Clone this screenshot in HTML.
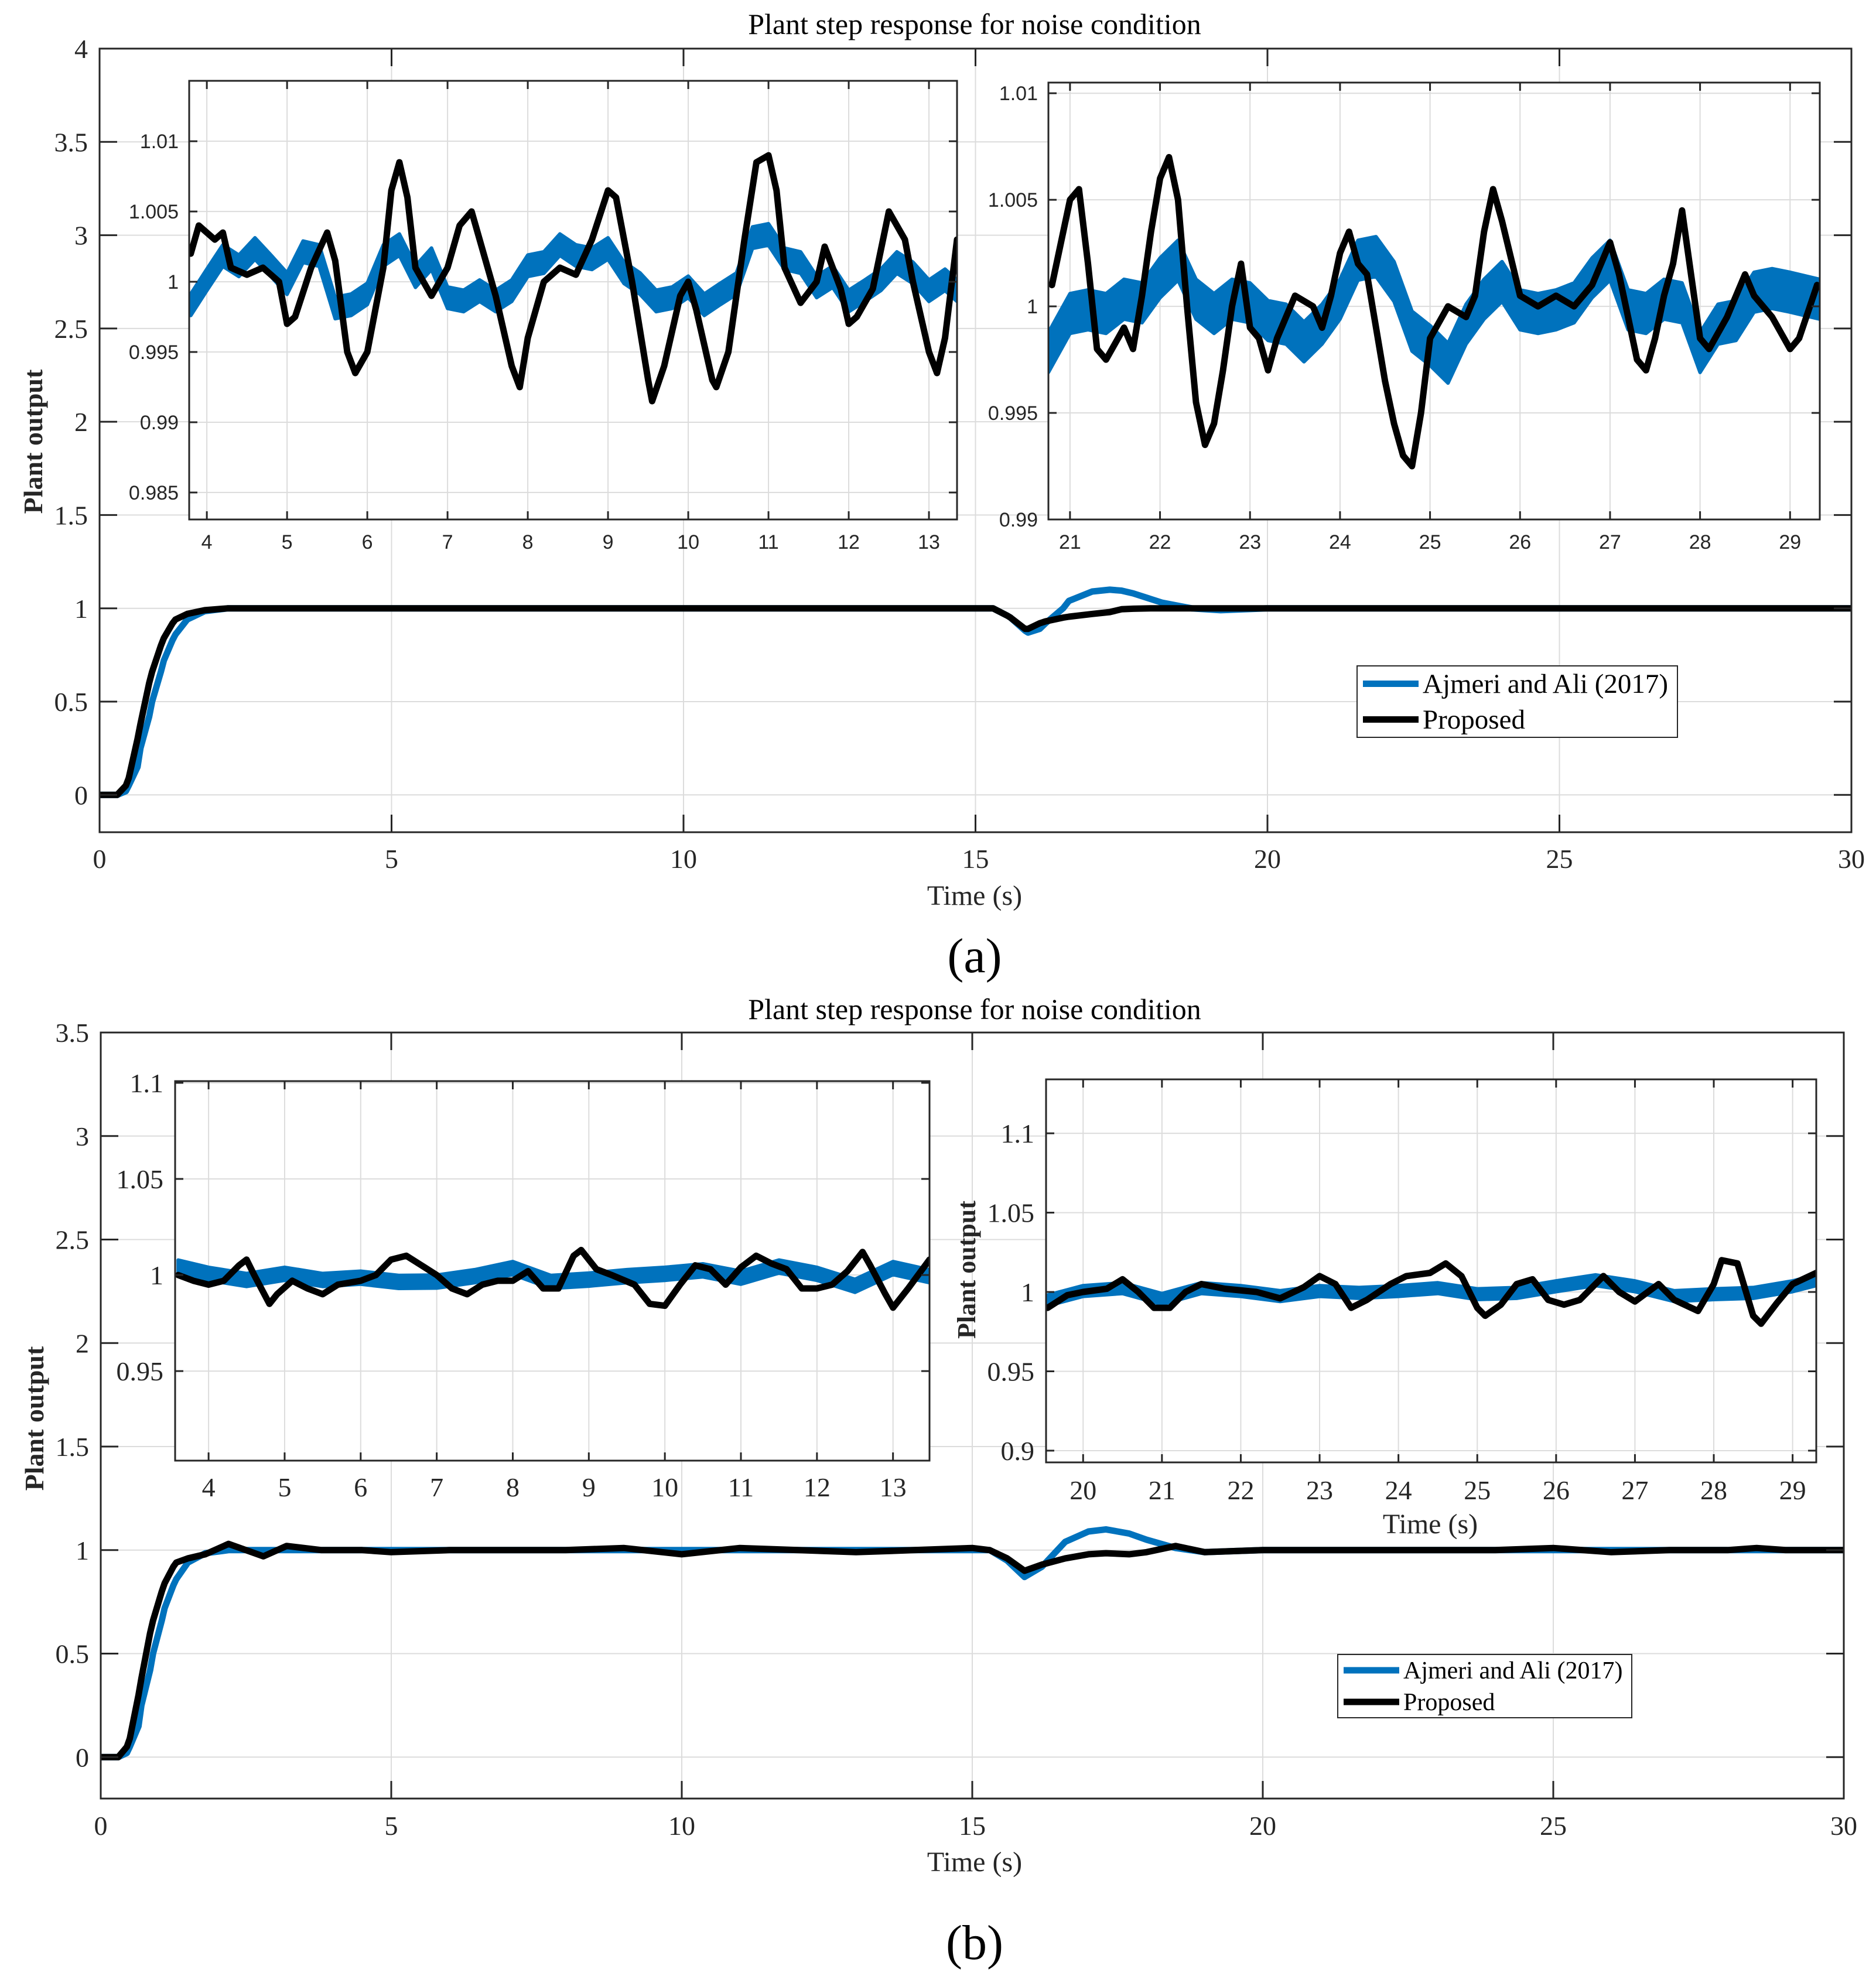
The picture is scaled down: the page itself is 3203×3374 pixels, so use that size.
<!DOCTYPE html>
<html><head><meta charset="utf-8"><style>
html,body{margin:0;padding:0;background:#fff;}
svg{display:block;}
</style></head><body>
<svg id="fig" xmlns="http://www.w3.org/2000/svg" width="3203" height="3374" viewBox="0 0 3203 3374"></svg>
<script>
// ---------- DATA ----------
// Panel (a) main curves
const aMainT = [0,0.3,0.45,0.5,0.65,0.7,0.85,0.9,1.05,1.1,1.25,1.3,1.5,1.8,2.2,3,15.3,15.55,15.6,15.85,15.9,16.1,16.2,16.5,16.6,17,17.3,17.5,17.7,18,18.2,18.7,19.2,20,30];
const aMainBlue = [0,0,0.02,0.05,0.15,0.25,0.42,0.5,0.66,0.72,0.83,0.86,0.94,0.985,1,1,1,0.96,0.95,0.88,0.87,0.89,0.92,1.0,1.04,1.09,1.1,1.095,1.08,1.05,1.03,1.0,0.99,1.0,1.0];
const aMainBlack = [0,0,0.05,0.09,0.3,0.38,0.6,0.66,0.8,0.84,0.92,0.94,0.97,0.99,1,1,1,0.96,0.95,0.89,0.89,0.92,0.93,0.95,0.955,0.97,0.98,0.995,0.998,1,1,1,1,1,1];
// Panel (b) main curves
const bMainT = [0,0.3,0.45,0.5,0.65,0.7,0.85,0.9,1.05,1.1,1.25,1.3,1.5,1.8,2.2,2.8,3.2,3.8,4.5,5,6,7,8,9,10,11,12,13,14,15,15.3,15.6,15.9,16.2,16.6,17,17.3,17.7,18,18.5,19,20,21,22,23,24,25,26,27,28,28.5,29,30];
const bMainBlue = [0,0,0.02,0.05,0.15,0.25,0.42,0.5,0.66,0.72,0.83,0.86,0.94,0.985,1,1,1,1,1,1,1,1,1,1,1,1,1,1,1,1,1,0.95,0.87,0.92,1.04,1.09,1.1,1.08,1.05,1.01,0.99,1,1,1,1,1,1,1,1,1,1,1,1];
const bMainBlack = [0,0,0.05,0.09,0.3,0.38,0.6,0.66,0.8,0.84,0.92,0.94,0.96,0.98,1.03,0.97,1.02,1.0,1.0,0.99,1.0,1.0,1.0,1.01,0.98,1.01,1.0,0.99,1.0,1.01,1.0,0.96,0.9,0.93,0.96,0.98,0.985,0.98,0.99,1.02,0.99,1.0,1.0,1.0,1.0,1.0,1.01,0.99,1.0,1.0,1.01,1.0,1.0];
// Inset a1
const a1T_black = [3.8,3.9,4.0,4.1,4.2,4.3,4.5,4.7,4.9,5.0,5.1,5.3,5.5,5.6,5.75,5.85,6.0,6.2,6.3,6.4,6.5,6.6,6.8,7.0,7.15,7.3,7.4,7.6,7.8,7.9,8.0,8.2,8.4,8.6,8.8,9.0,9.1,9.3,9.5,9.55,9.7,9.9,10.0,10.1,10.3,10.35,10.5,10.7,10.85,11.0,11.1,11.2,11.4,11.6,11.7,11.9,12.0,12.1,12.3,12.5,12.7,12.8,13.0,13.1,13.2,13.35];
const a1Black = [1.002,1.004,1.0035,1.003,1.0035,1.001,1.0005,1.001,1.0,0.997,0.9975,1.001,1.0035,1.0015,0.995,0.9935,0.995,1.001,1.0065,1.0085,1.006,1.001,0.999,1.001,1.004,1.005,1.003,0.999,0.994,0.9925,0.996,1.0,1.001,1.0005,1.003,1.0065,1.006,1.0,0.993,0.9915,0.994,0.999,1.0,0.998,0.993,0.9925,0.995,1.003,1.0085,1.009,1.0065,1.001,0.9985,1.0,1.0025,0.9995,0.997,0.9975,0.9995,1.005,1.003,1.0,0.995,0.9935,0.996,1.003];
const a1T_blue = [3.8,4.0,4.2,4.4,4.6,4.8,5.0,5.2,5.4,5.6,5.8,6.0,6.2,6.4,6.6,6.8,7.0,7.2,7.4,7.6,7.8,8.0,8.2,8.4,8.6,8.8,9.0,9.2,9.4,9.6,9.8,10.0,10.2,10.4,10.6,10.8,11.0,11.2,11.4,11.6,11.8,12.0,12.2,12.4,12.6,12.8,13.0,13.2,13.35];
const a1Blue = [0.9985,1.0,1.002,1.001,1.0025,1.001,1.0,1.002,1.002,0.998,0.9985,0.999,1.002,1.0025,1.0005,1.0015,0.999,0.9985,0.9995,0.9985,0.9995,1.001,1.0015,1.0025,1.002,1.0015,1.0025,1.0005,1.0,0.9985,0.999,0.9995,0.9985,0.999,1.0,1.003,1.0035,1.0015,1.0015,0.9995,1.0005,0.9985,0.9995,1.0,1.0015,1.0005,0.9995,1.0,0.9995];
// Inset a2
const a2T_black = [20.8,20.9,21.0,21.1,21.2,21.3,21.4,21.6,21.7,21.8,21.9,22.0,22.1,22.2,22.3,22.4,22.5,22.6,22.7,22.8,22.9,23.0,23.1,23.2,23.3,23.5,23.7,23.8,23.9,24.0,24.1,24.2,24.3,24.4,24.5,24.6,24.7,24.8,24.9,25.0,25.2,25.4,25.5,25.6,25.7,25.8,26.0,26.2,26.4,26.6,26.8,27.0,27.1,27.2,27.3,27.4,27.5,27.6,27.7,27.8,27.9,28.0,28.1,28.3,28.5,28.6,28.8,29.0,29.1,29.3];
const a2Black = [1.001,1.003,1.005,1.0055,1.002,0.998,0.9975,0.999,0.998,1.0005,1.0035,1.006,1.007,1.005,1.0,0.9955,0.9935,0.9945,0.997,1.0,1.002,0.999,0.9985,0.997,0.9985,1.0005,1.0,0.999,1.0005,1.0025,1.0035,1.002,1.0015,0.999,0.9965,0.9945,0.993,0.9925,0.995,0.9985,1.0,0.9995,1.0005,1.0035,1.0055,1.004,1.0005,1.0,1.0005,1.0,1.001,1.003,1.0015,0.9995,0.9975,0.997,0.9985,1.0005,1.002,1.0045,1.0015,0.9985,0.998,0.9995,1.0015,1.0005,0.9995,0.998,0.9985,1.001];
const a2T_blue = [20.76,21.0,21.2,21.4,21.6,21.8,22.0,22.2,22.4,22.6,22.8,23.0,23.2,23.4,23.6,23.8,24.0,24.2,24.4,24.6,24.8,25.0,25.2,25.4,25.6,25.8,26.0,26.2,26.4,26.6,26.8,27.0,27.2,27.4,27.6,27.8,28.0,28.2,28.4,28.6,28.8,29.0,29.33];
const a2Blue = [0.998,0.9995,1.0,0.9995,1.0005,1.0,1.0015,1.002,1.0005,0.9995,1.0005,1.0,0.9995,0.999,0.9985,0.999,1.0005,1.002,1.0025,1.001,0.999,0.998,0.9975,0.999,1.0005,1.001,1.0,0.9995,1.0,1.0,1.0015,1.002,1.0,0.9995,1.0005,1.0,0.998,0.999,0.9995,1.0005,1.001,1.0005,1.0005];
// Inset b1
const b1T_black = [3.6,3.8,4.0,4.2,4.4,4.5,4.6,4.8,4.9,5.1,5.3,5.5,5.7,6.0,6.2,6.4,6.6,6.8,7.0,7.2,7.4,7.6,7.8,8.0,8.2,8.4,8.6,8.8,8.9,9.1,9.3,9.6,9.8,10.0,10.2,10.4,10.6,10.8,11.0,11.2,11.4,11.6,11.8,12.0,12.2,12.4,12.6,12.7,12.9,13.0,13.2,13.48];
const b1Black = [1.0,0.997,0.995,0.997,1.005,1.008,1.0,0.985,0.99,0.997,0.993,0.99,0.995,0.997,1.0,1.008,1.01,1.005,1.0,0.993,0.99,0.995,0.997,0.997,1.002,0.993,0.993,1.01,1.013,1.003,1.0,0.995,0.985,0.984,0.995,1.005,1.003,0.995,1.004,1.01,1.006,1.003,0.993,0.993,0.995,1.002,1.012,1.005,0.99,0.983,0.993,1.008];
const b1T_blue = [3.6,4.0,4.5,5.0,5.5,6.0,6.5,7.0,7.5,8.0,8.5,9.0,9.5,10.0,10.5,11.0,11.5,12.0,12.5,13.0,13.48];
const b1Blue = [1.005,1.0,0.998,1.0,0.998,0.998,0.997,0.996,1.0,1.003,0.997,0.997,1.0,1.0,1.003,0.998,1.005,1.0,0.995,1.003,1.0];
// Inset b2
const b2T_black = [19.55,19.8,20.0,20.3,20.5,20.7,20.9,21.1,21.3,21.5,21.8,22.2,22.5,22.8,23.0,23.2,23.4,23.6,23.9,24.1,24.4,24.6,24.8,25.0,25.1,25.3,25.5,25.7,25.9,26.1,26.3,26.6,26.8,27.0,27.3,27.5,27.8,28.0,28.1,28.3,28.5,28.6,28.8,29.0,29.3];
const b2Black = [0.99,0.998,1.0,1.002,1.008,1.0,0.99,0.99,1.0,1.005,1.002,1.0,0.996,1.003,1.01,1.005,0.99,0.995,1.005,1.01,1.012,1.018,1.01,0.99,0.985,0.992,1.005,1.008,0.995,0.992,0.995,1.01,1.0,0.994,1.005,0.995,0.988,1.005,1.02,1.018,0.985,0.98,0.993,1.005,1.012];
const b2T_blue = [19.53,20.0,20.5,21.0,21.5,22.0,22.5,23.0,23.5,24.0,24.5,25.0,25.5,26.0,26.5,27.0,27.5,28.0,28.5,29.0,29.3];
const b2Blue = [0.995,1.0,1.003,0.995,1.003,1.0,0.998,1.0,1.0,1.0,1.003,0.998,1.0,1.003,1.008,1.003,0.998,0.998,1.0,1.003,1.008];
// tick labels
const mainXTicks = [0,5,10,15,20,25,30];
const aYTicks = [0,0.5,1,1.5,2,2.5,3,3.5,4];
const bYTicks = [0,0.5,1,1.5,2,2.5,3,3.5];
const a1XTicks = [4,5,6,7,8,9,10,11,12,13];
const a1YTicks = [0.985,0.99,0.995,1,1.005,1.01];
const a2XTicks = [21,22,23,24,25,26,27,28,29];
const a2YTicks = [0.99,0.995,1,1.005,1.01];
const b1XTicks = [4,5,6,7,8,9,10,11,12,13];
const b1YTicks = [0.95,1,1.05,1.1];
const b2XTicks = [20,21,22,23,24,25,26,27,28,29];
const b2YTicks = [0.9,0.95,1,1.05,1.1];
const legendLabels = ["Ajmeri and Ali (2017)","Proposed"];

// ---------- DRAW ----------
const NS = "http://www.w3.org/2000/svg";
const svg = document.getElementById('fig');
const BLUE = "#0072BD", BLK = "#000000", AX = "#262626", GRID = "#dcdcdc";
const SERIF = '"Liberation Serif", serif', SANS = '"Liberation Sans", sans-serif';
function mk(tag, attrs, parent){const e=document.createElementNS(NS,tag);for(const k in attrs)e.setAttribute(k,attrs[k]);(parent||svg).appendChild(e);return e;}
function txt(s, x, y, size, fam, anchor, parent, extra){const t=mk('text',Object.assign({x:x,y:y,'font-size':size,'font-family':fam,'text-anchor':anchor||'middle',fill:'#262626'},extra||{}),parent);t.textContent=s;return t;}

function axes(name, box, xd, yd, xt, yt, o){
  const g = mk('g',{});
  
  
  const [L,T,R,B] = box;
  const sx = v => L + (v-xd[0])/(xd[1]-xd[0])*(R-L);
  const sy = v => B - (v-yd[0])/(yd[1]-yd[0])*(B-T);
  mk('rect',{x:L,y:T,width:R-L,height:B-T,fill:'#fff'},g);
  const grid = mk('g',{},g);
  
  
  xt.forEach(v=>mk('line',{x1:sx(v),x2:sx(v),y1:T,y2:B,stroke:GRID,'stroke-width':2},grid));
  yt.forEach(v=>mk('line',{x1:L,x2:R,y1:sy(v),y2:sy(v),stroke:GRID,'stroke-width':2},grid));
  const plot = mk('g',{},g);
  const clipId = name+'-clip';
  const cp = mk('clipPath',{id:clipId},g); mk('rect',{x:L,y:T,width:R-L,height:B-T},cp);
  plot.setAttribute('clip-path','url(#'+clipId+')');
  const frame = mk('g',{},g);
  const tl=o.tick;
  xt.forEach(v=>{mk('line',{x1:sx(v),x2:sx(v),y1:B,y2:B-tl,stroke:AX,'stroke-width':3},frame);mk('line',{x1:sx(v),x2:sx(v),y1:T,y2:T+tl,stroke:AX,'stroke-width':3},frame);});
  yt.forEach(v=>{mk('line',{x1:L,x2:L+tl,y1:sy(v),y2:sy(v),stroke:AX,'stroke-width':3},frame);mk('line',{x1:R,x2:R-tl,y1:sy(v),y2:sy(v),stroke:AX,'stroke-width':3},frame);});
  mk('rect',{x:L,y:T,width:R-L,height:B-T,fill:'none',stroke:AX,'stroke-width':o.bw||3},frame);
  xt.forEach(v=>{const t=txt(String(v),sx(v),o.xlY,o.fs,o.fam,'middle',g);});
  yt.forEach(v=>{const t=txt(String(v),L-o.ylGap,sy(v)+o.fs*0.35,o.fs,o.fam,'end',g);});
  return {sx,sy,plot,frame,g};
}
function line(ax, ts, vs, color, w, nm){
  const p = ts.map((t,i)=>ax.sx(t).toFixed(1)+','+ax.sy(vs[i]).toFixed(1)).join(' ');
  const e = mk('polyline',{points:p,fill:'none',stroke:color,'stroke-width':w,'stroke-linejoin':'round','stroke-linecap':'round'},ax.plot);
  
  
}
function band(ax, ts, vs, spread, nm){
  const up = ts.map((t,i)=>ax.sx(t).toFixed(1)+','+ax.sy(vs[i]+spread*(i%2?1:0.7)).toFixed(1));
  const dn = ts.map((t,i)=>ax.sx(t).toFixed(1)+','+ax.sy(vs[i]-spread*(i%2?0.7:1)).toFixed(1)).reverse();
  const e = mk('polygon',{points:up.concat(dn).join(' '),fill:BLUE,stroke:BLUE,'stroke-width':6,'stroke-linejoin':'round'},ax.plot);
  
  
}
function legend(box, fs, nm){
  const g = mk('g',{});
  
  
  const [L,T,R,B]=box;
  mk('rect',{x:L,y:T,width:R-L,height:B-T,fill:'#fff',stroke:AX,'stroke-width':2},g);
  const h=(B-T)/2;
  [BLUE,BLK].forEach((c,i)=>{
    const y=T+h*(i+0.5);
    mk('line',{x1:L+10,x2:L+105,y1:y,y2:y,stroke:c,'stroke-width':11},g);
    const t=txt(legendLabels[i],L+112,y+fs*0.33,fs,SERIF,'start',g,{fill:'#000'});
    
    
  });
}

// ===== Panel (a) =====
const A = axes('panel-a-axes',[170,83,3161,1421],[0,30],[-0.2,4],mainXTicks,aYTicks,{tick:30,xlY:1482,fs:46,fam:SERIF,ylGap:20});
line(A,aMainT,aMainBlue,BLUE,11,'panel-a-blue-line');
line(A,aMainT,aMainBlack,BLK,11,'panel-a-black-line');
const A1 = axes('inset-a1',[323,138,1634,887],[3.78,13.35],[0.98308,1.0143],a1XTicks,a1YTicks,{tick:14,xlY:937,fs:34,fam:SANS,ylGap:18});
band(A1,a1T_blue,a1Blue,0.0009,'inset-a1-blue');
line(A1,a1T_black,a1Black,BLK,11,'inset-a1-black');
const A2 = axes('inset-a2',[1790,141,3107,887],[20.76,29.33],[0.99,1.0105],a2XTicks,a2YTicks,{tick:14,xlY:937,fs:34,fam:SANS,ylGap:18});
band(A2,a2T_blue,a2Blue,0.0011,'inset-a2-blue');
line(A2,a2T_black,a2Black,BLK,11,'inset-a2-black');
legend([2317,1137,2864,1259],47,'legend-a');
let t;
t=txt('Plant step response for noise condition',1664,58,50,SERIF,'middle',svg,{fill:'#000'});  
t=txt('Time (s)',1664,1545,48,SERIF,'middle');  
t=txt('Plant output',0,0,46,SERIF,'middle',svg,{transform:'translate(72,754) rotate(-90)','font-weight':'bold'});  
t=txt('(a)',1664,1660,84,SERIF,'middle',svg,{fill:'#000'});  

// ===== Panel (b) =====
const Bx = axes('panel-b-axes',[172,1763,3148,3071],[0,30],[-0.2,3.5],mainXTicks,bYTicks,{tick:30,xlY:3133,fs:46,fam:SERIF,ylGap:20});
line(Bx,bMainT,bMainBlue,BLUE,11,'panel-b-blue-line');
line(Bx,bMainT,bMainBlack,BLK,11,'panel-b-black-line');
const B1 = axes('inset-b1',[299,1846,1587,2494],[3.56,13.48],[0.9034,1.1009],b1XTicks,b1YTicks,{tick:14,xlY:2555,fs:46,fam:SERIF,ylGap:20});
band(B1,b1T_blue,b1Blue,0.004,'inset-b1-blue');
line(B1,b1T_black,b1Black,BLK,11,'inset-b1-black');
const B2 = axes('inset-b2',[1786,1843,3101,2497],[19.53,29.30],[0.8926,1.134],b2XTicks,b2YTicks,{tick:14,xlY:2560,fs:46,fam:SERIF,ylGap:20});
band(B2,b2T_blue,b2Blue,0.004,'inset-b2-blue');
line(B2,b2T_black,b2Black,BLK,11,'inset-b2-black');
legend([2284,2825,2786,2933],42,'legend-b');
t=txt('Plant step response for noise condition',1664,1740,50,SERIF,'middle',svg,{fill:'#000'});  
t=txt('Time (s)',1664,3195,48,SERIF,'middle');  
t=txt('Time (s)',2442,2618,48,SERIF,'middle');  
t=txt('Plant output',0,0,46,SERIF,'middle',svg,{transform:'translate(74,2422) rotate(-90)','font-weight':'bold'});  
t=txt('Plant output',0,0,44,SERIF,'middle',svg,{transform:'translate(1665,2168) rotate(-90)','font-weight':'bold'});  
t=txt('(b)',1664,3345,84,SERIF,'middle',svg,{fill:'#000'});  
</script>
</body></html>
